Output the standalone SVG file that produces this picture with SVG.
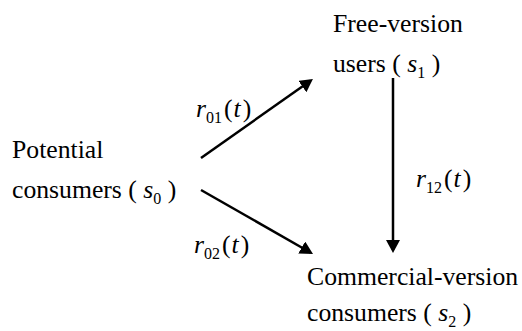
<svg xmlns="http://www.w3.org/2000/svg" width="522" height="331" viewBox="0 0 522 331" font-family="'Liberation Serif', 'Times New Roman', Tinos, serif">
<style>
text{font-family:'Liberation Serif','Times New Roman',Tinos,serif;font-size:25.7px;fill:#000}
.i{font-style:italic}
.sub{font-size:16px}
.edge{stroke:#000;stroke-width:2.5;fill:none;marker-end:url(#ah)}
</style>
<defs>
<marker id="ah" markerUnits="userSpaceOnUse" markerWidth="14" markerHeight="15" refX="10" refY="7" orient="auto">
<path d="M0,0 L13,7 L0,14 Z" fill="#000"/>
</marker>
</defs>
<rect width="522" height="331" fill="#fff"/>
<g id="connectors">
<path class="edge" d="M201,158 L310.5,80.7"/>
<path class="edge" d="M201,190 L310.4,252.5"/>
<path class="edge" d="M393,78 L393,250"/>
<text x="196" y="117"><tspan class="i">r</tspan><tspan class="sub" dy="6">01</tspan><tspan dy="-6" dx="2">(</tspan><tspan class="i" dx="1">t</tspan><tspan dx="2">)</tspan></text>
<text x="194" y="253"><tspan class="i">r</tspan><tspan class="sub" dy="6">02</tspan><tspan dy="-6" dx="2">(</tspan><tspan class="i" dx="1">t</tspan><tspan dx="2">)</tspan></text>
<text x="416" y="187"><tspan class="i">r</tspan><tspan class="sub" dy="6">12</tspan><tspan dy="-6" dx="2">(</tspan><tspan class="i" dx="1">t</tspan><tspan dx="2">)</tspan></text>
</g>
<g id="s0">
<text x="12" y="158">Potential</text>
<text x="12" y="198">consumers ( <tspan class="i">s</tspan><tspan class="sub" dy="6">0</tspan><tspan dy="-6"> )</tspan></text>
</g>
<g id="s1">
<text x="333" y="32">Free-version</text>
<text x="333" y="72">users ( <tspan class="i">s</tspan><tspan class="sub" dy="6">1</tspan><tspan dy="-6"> )</tspan></text>
</g>
<g id="s2">
<text x="307" y="285">Commercial-version</text>
<text x="307" y="321">consumers ( <tspan class="i">s</tspan><tspan class="sub" dy="6">2</tspan><tspan dy="-6"> )</tspan></text>
</g>
</svg>
